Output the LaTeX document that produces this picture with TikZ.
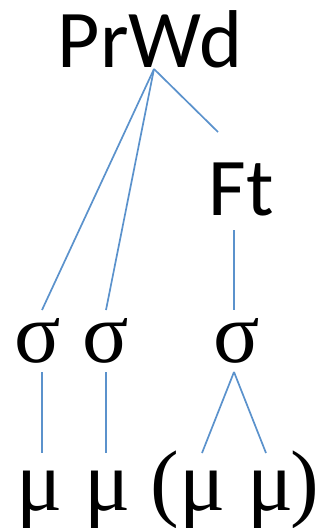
\documentclass[tikz,border=0pt]{standalone}
\usepackage{fontspec}
\setmainfont{Carlito}
\newfontfamily\grk{Liberation Serif}
\tikzset{
  lab/.style={anchor=base, inner sep=0pt, font=\fontsize{82}{90}\selectfont},
  glab/.style={anchor=base, inner sep=0pt, font=\grk\fontsize{86}{90}\selectfont},
  edge/.style={draw={rgb,255:red,91;green,146;blue,204}, line width=1.7pt}
}
\begin{document}
\begin{tikzpicture}[x=1pt,y=-1pt]
\useasboundingbox (0,0) rectangle (320,528);
\node[lab] (prwd) at (150,67) {PrWd};
\node[lab] (ft) at (241,215) {Ft};
\node[glab] (s1) at (38,362) {σ};
\node[glab] (s2) at (106,362) {σ};
\node[glab] (s3) at (237,362) {σ};
\node[glab] (m1) at (40,510) {μ};
\node[glab] (m2) at (108,510) {μ};
\node[glab] (lp) at (165,510) {(};
\node[glab] (m3) at (203,510) {μ};
\node[glab] (m4) at (271,510) {μ};
\node[glab] (rp) at (305,510) {)};
\coordinate (pw) at (154,69);
\coordinate (s1t) at (42,310);
\coordinate (s2t) at (106,310);
\coordinate (s3t) at (234,310);
\coordinate (ftt) at (218,132);
\coordinate (ftb) at (234,230);
\coordinate (s1b) at (42,372);
\coordinate (s2b) at (106,372);
\coordinate (s3b) at (234,372);
\coordinate (m1t) at (42,453);
\coordinate (m2t) at (106,453);
\coordinate (m3t) at (202,453);
\coordinate (m4t) at (266,453);
\draw[edge] (pw) -- (s1t);
\draw[edge] (pw) -- (s2t);
\draw[edge] (pw) -- (ftt);
\draw[edge] (ftb) -- (s3t);
\draw[edge] (s1b) -- (m1t);
\draw[edge] (s2b) -- (m2t);
\draw[edge] (s3b) -- (m3t);
\draw[edge] (s3b) -- (m4t);
\end{tikzpicture}
\end{document}
